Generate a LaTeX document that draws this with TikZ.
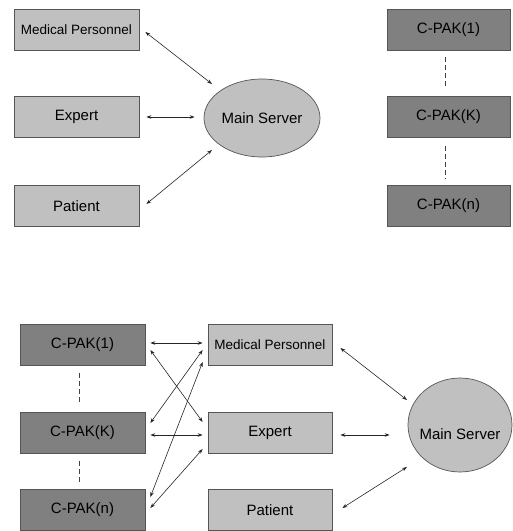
\documentclass[tikz,border=0pt]{standalone}
\usepackage{fontspec}
\setmainfont{Liberation Sans}
\usetikzlibrary{shapes.geometric,arrows.meta,calc}
\definecolor{lightbox}{HTML}{C0C0C0}
\definecolor{darkbox}{HTML}{808080}
\definecolor{edgegray}{HTML}{555555}
\begin{document}
\begin{tikzpicture}[x=1pt,y=-1pt,
  lbox/.style={draw=edgegray,line width=0.7pt,fill=lightbox,minimum width=125pt,minimum height=41pt,inner sep=0pt,font=\fontsize{15}{15}\selectfont},
  dbox/.style={lbox,fill=darkbox},
  smalltext/.style={font=\fontsize{13.5}{13.5}\selectfont},
  server/.style={ellipse,draw=edgegray,line width=0.7pt,fill=lightbox,inner sep=0pt,font=\fontsize{15}{15}\selectfont},
  link/.style={{Stealth[length=5pt,width=3.5pt]}-{Stealth[length=5pt,width=3.5pt]},line width=0.6pt,draw=black!85},
  dots/.style={line width=1pt,draw=black!75,dash pattern=on 5pt off 3pt}]
\useasboundingbox (0,0) rectangle (513,531);
% top left
\node[lbox,smalltext] (mp1) at (76.5,29.5) {Medical Personnel};
\node[lbox] (ex1) at (76.5,117) {Expert};
\node[lbox] (pa1) at (76.5,206) {Patient};
\node[server,minimum width=116pt,minimum height=78pt] (ms1) at (262,118) {Main Server};
\draw[link] ($(mp1.east)+(6,2.5)$) -- ($(ms1.center)+(-50,-34)$);
\draw[link] ($(ex1.east)+(7,0)$) -- ($(ms1.west)+(-9,-1)$);
\draw[link] ($(pa1.east)+(7,-2)$) -- ($(ms1.center)+(-50,32)$);
% top right
\node[dbox,minimum width=123pt] (tc1) at (448.5,29.5) {C-PAK(1)};
\node[dbox,minimum width=123pt] (tck) at (448.5,117) {C-PAK(K)};
\node[dbox,minimum width=123pt] (tcn) at (448.5,206) {C-PAK(n)};
\draw[dots] ($(tc1.south)+(-3,7)$) -- ($(tck.north)+(-3,-7)$);
\draw[dots] ($(tck.south)+(-3,8)$) -- ($(tcn.north)+(-3,-7)$);
% bottom
\node[dbox] (cp1) at (82.5,345) {C-PAK(1)};
\node[dbox] (cpk) at (82.5,433) {C-PAK(K)};
\node[dbox] (cpn) at (82.5,510) {C-PAK(n)};
\draw[dots] ($(cp1.south)+(-3.5,7)$) -- ($(cpk.north)+(-3.5,-8)$);
\draw[dots] ($(cpk.south)+(-3.5,7)$) -- ($(cpn.north)+(-3.5,-6)$);
\node[lbox,smalltext,minimum width=124pt] (mp2) at (270,345) {Medical Personnel};
\node[lbox,minimum width=124pt] (ex2) at (270,433) {Expert};
\node[lbox,minimum width=124pt] (pa2) at (270,510) {Patient};
\node[server,minimum width=104pt,minimum height=94pt,label={[yshift=-9pt,font=\fontsize{15}{15}\selectfont]center:Main Server}] (ms2) at (460,425) {};
\draw[link] ($(cp1.east)+(5,-2)$) -- ($(mp2.west)+(-5,-2)$);
\draw[link] ($(cp1.east)+(5,5)$) -- ($(ex2.west)+(-5,-11)$);
\draw[link] ($(mp2.west)+(-5,5)$) -- ($(cpk.east)+(5,-10)$);
\draw[link] ($(mp2.west)+(-5,17)$) -- ($(cpn.east)+(5,-13)$);
\draw[link] ($(cpk.east)+(5,2)$) -- ($(ex2.west)+(-5,2)$);
\draw[link] ($(cpn.east)+(5,-2)$) -- ($(ex2.west)+(-5,16)$);
\draw[link] ($(mp2.east)+(8,3)$) -- ($(ms2.center)+(-53,-25)$);
\draw[link] ($(ex2.east)+(8,2)$) -- ($(ms2.west)+(-18,10)$);
\draw[link] ($(pa2.east)+(10,-2)$) -- ($(ms2.center)+(-53,42)$);
\end{tikzpicture}
\end{document}
